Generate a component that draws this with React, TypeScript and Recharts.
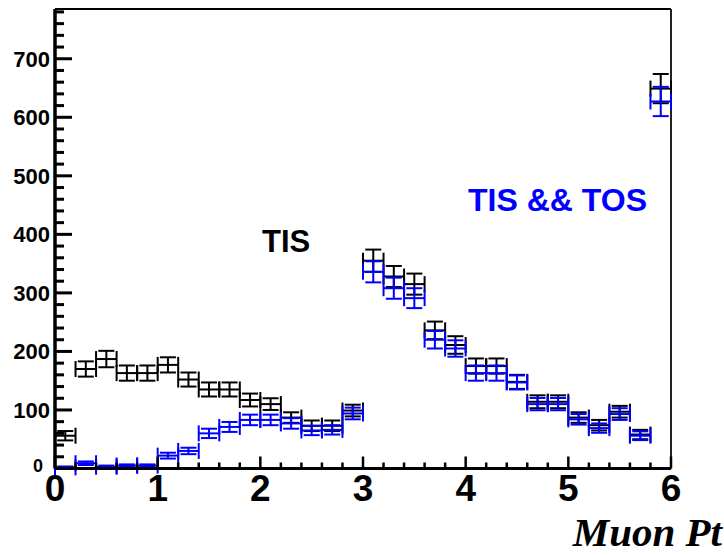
import {
  ErrorBar,
  ReferenceLine,
  Scatter,
  ScatterChart,
  XAxis,
  YAxis,
} from "recharts";

// bin centres of the muon Pt histogram (bin width 0.2)
const binCentres = [
  0.1, 0.3, 0.5, 0.7, 0.9, 1.1, 1.3, 1.5, 1.7, 1.9,
  2.1, 2.3, 2.5, 2.7, 2.9, 3.1, 3.3, 3.5, 3.7, 3.9,
  4.1, 4.3, 4.5, 4.7, 4.9, 5.1, 5.3, 5.5, 5.7, 5.9,
];
const binHalfWidth = 0.1;

// TIS counts and their errors
const tisCounts = [
  56, 170, 187, 163, 163, 177, 152, 135, 135, 117,
  110, 87, 73, 73, 99, 355, 328, 315, 236, 211,
  175, 175, 148, 114, 114, 87, 74, 97, 58, 649,
];
const tisErrors = [
  8, 13, 14, 13, 13, 13, 12, 12, 12, 11,
  10, 9, 9, 9, 10, 19, 18, 18, 15, 15,
  13, 13, 12, 11, 11, 9, 9, 10, 8, 25,
];

// TIS && TOS counts and their errors
const tosCounts = [
  2, 9, 3, 5, 5, 22, 30, 60, 71, 83,
  83, 77, 65, 66, 94, 336, 308, 291, 220, 205,
  163, 163, 147, 110, 110, 84, 69, 93, 56, 627,
];
const tosErrors = [
  1.5, 3, 2, 2, 2, 5, 5.5, 8, 8.5, 9,
  9, 9, 8, 8, 10, 18, 18, 17, 15, 14,
  13, 13, 12, 10.5, 10.5, 9, 8, 10, 7.5, 25,
];

const xMajorTicks = [0, 1, 2, 3, 4, 5, 6];
const yMajorTicks = [0, 100, 200, 300, 400, 500, 600, 700];
const yMax = 785;

// minor ticks: 5 divisions per major step
const xTicks: number[] = [];
for (let i = 0; i <= 30; i++) xTicks.push(Math.round(i * 2) / 10);
const yTicks: number[] = [];
for (let v = 0; v <= 780; v += 20) yTicks.push(v);

const tisData = binCentres.map((x, i) => ({
  x,
  y: tisCounts[i],
  ex: binHalfWidth,
  ey: tisErrors[i],
}));
const tosData = binCentres.map((x, i) => ({
  x,
  y: tosCounts[i],
  ex: binHalfWidth,
  ey: tosErrors[i],
}));

const SANS = "'Liberation Sans', Arial, sans-serif";
const BLUE = "#0000ff";

function YTick(props: any) {
  const { x, y, payload } = props;
  const v = payload.value as number;
  const major = yMajorTicks.includes(v);
  // the zero label sits a little lower and left, clear of the x-axis "0"
  const isZero = v === 0;
  return (
    <g>
      <line x1={x} x2={x + (major ? 17 : 9)} y1={y} y2={y} stroke="#000" strokeWidth={3} />
      {major && (
        <text
          x={x - (isZero ? 12 : 5)}
          y={y - (isZero ? 3 : 0)}
          dy="0.36em"
          textAnchor="end"
          fontFamily={SANS}
          fontWeight="bold"
          fontSize={isZero ? 18 : 22}
          fill="#000"
        >
          {v}
        </text>
      )}
    </g>
  );
}

function XTick(props: any) {
  const { x, y, payload } = props;
  const v = payload.value as number;
  const major = xMajorTicks.includes(v);
  return (
    <g>
      <line x1={x} x2={x} y1={y} y2={y - (major ? 12 : 6)} stroke="#000" strokeWidth={2.5} />
      {major && (
        <text
          x={x}
          y={y + 32}
          textAnchor="middle"
          fontFamily={SANS}
          fontWeight="bold"
          fontSize={37}
          fill="#000"
        >
          {v}
        </text>
      )}
    </g>
  );
}

function AxisTitle(props: any) {
  const { viewBox } = props;
  return (
    <text
      x={viewBox.x + viewBox.width + 51}
      y={viewBox.y + 77}
      textAnchor="end"
      fontFamily="'Liberation Serif', 'Times New Roman', serif"
      fontStyle="italic"
      fontWeight="bold"
      fontSize={41}
      fill="#000"
    >
      Muon Pt
    </text>
  );
}

const noMarker = () => <g />;

export default function App() {
  return (
    <div style={{ position: "absolute", left: 0, top: 0, width: 724, height: 555, background: "#fff" }}>
      <ScatterChart
        width={724}
        height={555}
        margin={{ top: 9, right: 53, left: 0, bottom: 46.5 }}
      >
        <XAxis
          type="number"
          dataKey="x"
          domain={[0, 6]}
          ticks={xTicks}
          interval={0}
          allowDataOverflow
          height={40}
          tickSize={0}
          tickMargin={0}
          tickLine={false}
          axisLine={{ stroke: "#000", strokeWidth: 3 }}
          tick={<XTick />}
          label={{ content: <AxisTitle /> }}
        />
        <YAxis
          type="number"
          dataKey="y"
          domain={[0, yMax]}
          ticks={yTicks}
          interval={0}
          allowDataOverflow
          width={55}
          tickSize={0}
          tickMargin={0}
          tickLine={false}
          axisLine={{ stroke: "#000", strokeWidth: 3.5 }}
          tick={<YTick />}
        />
        <ReferenceLine y={yMax} stroke="#000" strokeWidth={2} />
        <ReferenceLine x={6} stroke="#222" strokeWidth={2} />
        <Scatter data={tisData} shape={noMarker} isAnimationActive={false}>
          <ErrorBar dataKey="ey" direction="y" width={8} stroke="#000" strokeWidth={2} isAnimationActive={false} />
          <ErrorBar dataKey="ex" direction="x" width={8} stroke="#000" strokeWidth={2} isAnimationActive={false} />
        </Scatter>
        <Scatter data={tosData} shape={noMarker} isAnimationActive={false}>
          <ErrorBar dataKey="ey" direction="y" width={8} stroke={BLUE} strokeWidth={2} isAnimationActive={false} />
          <ErrorBar dataKey="ex" direction="x" width={8} stroke={BLUE} strokeWidth={2} isAnimationActive={false} />
        </Scatter>
      </ScatterChart>
      <svg
        width={724}
        height={555}
        style={{ position: "absolute", left: 0, top: 0, pointerEvents: "none" }}
      >
        <text x={262} y={252} fontFamily={SANS} fontWeight="bold" fontSize={31} fill="#000">
          TIS
        </text>
        <text x={468} y={211} fontFamily={SANS} fontWeight="bold" fontSize={32} fill={BLUE}>
          TIS &amp;&amp; TOS
        </text>
      </svg>
    </div>
  );
}
